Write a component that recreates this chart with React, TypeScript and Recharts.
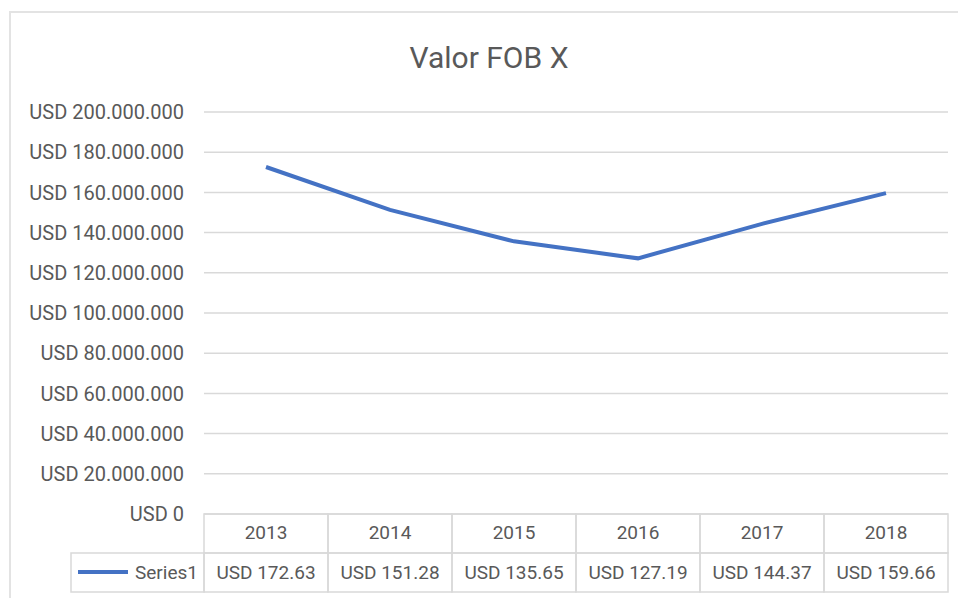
import { LineChart, Line, XAxis, YAxis, CartesianGrid } from "recharts";

const years = ["2013", "2014", "2015", "2016", "2017", "2018"];
const fobValues = [172.63, 151.28, 135.65, 127.19, 144.37, 159.66]; // millones USD
const yTicks = [0, 20, 40, 60, 80, 100, 120, 140, 160, 180, 200];
const seriesName = "Series1";

const BLUE = "#4472C4";
const GRID = "#d9d9d9";
const TEXT = "#595959";
const FONT = "Roboto, 'Open Sans', sans-serif";

const chartData = years.map((year, i) => ({ year, value: fobValues[i] }));

const formatY = (v: number) => (v === 0 ? "USD 0" : `USD ${v}.000.000`);

const TableTick = (props: any) => {
  const { x, y, payload, index, width } = props;
  const colW = (width ?? 744) / years.length;
  const left = x - colW / 2;
  const rowH = 39;
  return (
    <g>
      <rect x={left} y={y} width={colW} height={rowH} fill="none" stroke={GRID} strokeWidth={1.5} />
      <rect x={left} y={y + rowH} width={colW} height={rowH} fill="none" stroke={GRID} strokeWidth={1.5} />
      <text x={x} y={y + 25} textAnchor="middle" fill={TEXT} fontSize={19} fontFamily={FONT}>
        {payload.value}
      </text>
      <text x={x} y={y + rowH + 26} textAnchor="middle" fill={TEXT} fontSize={19} fontFamily={FONT}>
        {`USD ${fobValues[index].toFixed(2)}`}
      </text>
      {index === 0 && (
        <g>
          <rect x={left - 133} y={y + rowH} width={133} height={rowH} fill="none" stroke={GRID} strokeWidth={1.5} />
          <line x1={left - 126} x2={left - 76} y1={y + rowH + 19} y2={y + rowH + 19} stroke={BLUE} strokeWidth={4} />
          <text x={left - 6} y={y + rowH + 26} textAnchor="end" fill={TEXT} fontSize={19} fontFamily={FONT}>
            {seriesName}
          </text>
        </g>
      )}
    </g>
  );
};

export default function App() {
  return (
    <div style={{ position: "absolute", left: 0, top: 0, width: 958, height: 598, background: "#fff", overflow: "hidden" }}>
      <div
        style={{
          position: "absolute",
          left: 9,
          top: 11,
          width: 960,
          height: 600,
          borderLeft: "2px solid #e3e3e3",
          borderTop: "2px solid #e3e3e3",
        }}
      />
      <div
        style={{
          position: "absolute",
          left: 0,
          width: 978,
          top: 40,
          textAlign: "center",
          fontFamily: FONT,
          fontSize: 30,
          lineHeight: "36px",
          color: TEXT,
        }}
      >
        Valor FOB X
      </div>
      <div style={{ position: "absolute", left: 0, top: 0 }}>
        <LineChart
          width={958}
          height={598}
          data={chartData}
          margin={{ top: 112, right: 10, bottom: 0, left: 0 }}
        >
          <CartesianGrid horizontal vertical={false} stroke={GRID} strokeWidth={1.5} />
          <XAxis
            dataKey="year"
            axisLine={false}
            tickLine={false}
            tickSize={0}
            tickMargin={0}
            height={84}
            interval={0}
            padding={{ left: 62, right: 62 }}
            tick={<TableTick />}
          />
          <YAxis
            width={204}
            domain={[0, 200]}
            ticks={yTicks}
            interval={0}
            axisLine={false}
            tickLine={false}
            tickSize={0}
            tickMargin={20}
            tickFormatter={formatY}
            tick={{ fill: TEXT, fontSize: 20, fontFamily: FONT }}
          />
          <Line
            type="linear"
            dataKey="value"
            stroke={BLUE}
            strokeWidth={4}
            dot={false}
            activeDot={false}
            isAnimationActive={false}
          />
        </LineChart>
      </div>
    </div>
  );
}
